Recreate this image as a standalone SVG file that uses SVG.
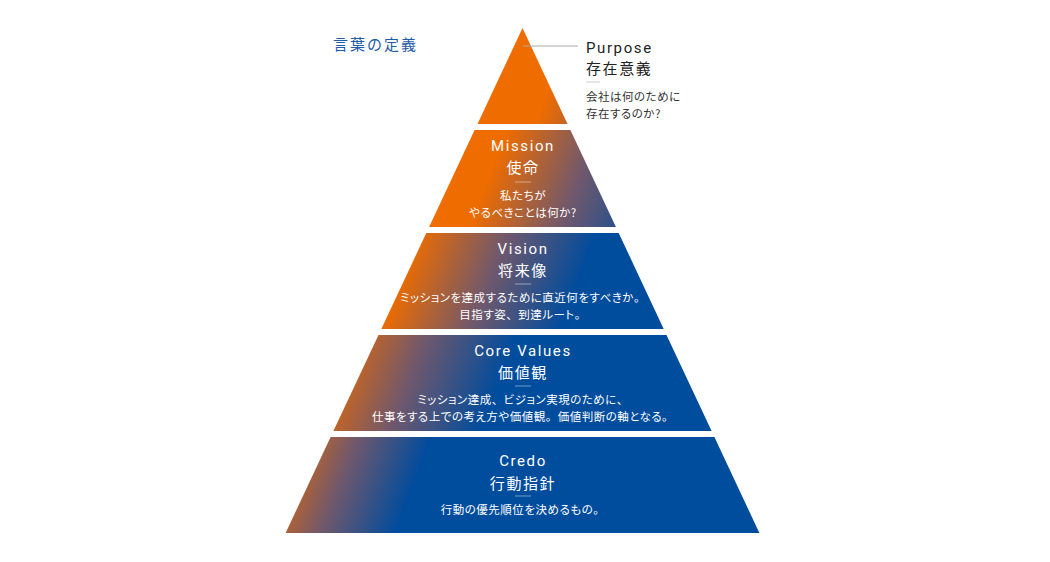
<svg xmlns="http://www.w3.org/2000/svg" width="1050" height="562" viewBox="0 0 1050 562">
<defs>
<linearGradient id="gp" gradientUnits="userSpaceOnUse" x1="509.0" y1="194.6" x2="667.8" y2="255.3">
<stop offset="0" stop-color="#EE6C00"/><stop offset="0.5" stop-color="#70586C"/><stop offset="1" stop-color="#004C9D"/>
</linearGradient>
<linearGradient id="gm" gradientUnits="userSpaceOnUse" x1="485.7" y1="185.6" x2="644.5" y2="246.3">
<stop offset="0" stop-color="#EE6C00"/><stop offset="0.5" stop-color="#70586C"/><stop offset="1" stop-color="#004C9D"/>
</linearGradient>
<linearGradient id="gv" gradientUnits="userSpaceOnUse" x1="440.8" y1="168.5" x2="599.6" y2="229.2">
<stop offset="0" stop-color="#EE6C00"/><stop offset="0.5" stop-color="#70586C"/><stop offset="1" stop-color="#004C9D"/>
</linearGradient>
<linearGradient id="gc" gradientUnits="userSpaceOnUse" x1="404.4" y1="154.6" x2="563.2" y2="215.3">
<stop offset="0" stop-color="#EE6C00"/><stop offset="0.5" stop-color="#70586C"/><stop offset="1" stop-color="#004C9D"/>
</linearGradient>
<linearGradient id="gr" gradientUnits="userSpaceOnUse" x1="392.3" y1="149.9" x2="523.0" y2="199.9">
<stop offset="0" stop-color="#EE6C00"/><stop offset="0.5" stop-color="#70586C"/><stop offset="1" stop-color="#004C9D"/>
</linearGradient>
<style>
.en{font-family:Roboto,"Noto Sans",sans-serif;font-size:15px;font-weight:400;letter-spacing:1.6px;fill:#fff;text-anchor:middle}
.jt{font-family:"Noto Sans CJK JP",sans-serif;font-size:15px;font-weight:400;letter-spacing:1.6px;fill:#fff;text-anchor:middle}
.jd{font-family:"Noto Sans CJK JP",sans-serif;font-size:11.5px;font-weight:400;letter-spacing:0.5px;fill:#fff;text-anchor:middle;font-feature-settings:"palt"}
.fw{font-feature-settings:normal}
.sep{stroke:#fff;stroke-opacity:0.45;stroke-width:1}
.dark{fill:#222;text-anchor:start}
.desc{fill:#333;text-anchor:start}
</style>
</defs>
<rect width="1050" height="562" fill="#fff"/>
<text x="333" y="50" font-family="'Noto Sans CJK JP',sans-serif" font-size="15" font-weight="400" letter-spacing="2" fill="#1E5BA8">言葉の定義</text>
<g id="purpose">
<polygon fill="url(#gp)" points="522.5,28 567.5,124 477.5,124"/>
<text class="en dark" x="586" y="53">Purpose</text>
<text class="jt dark" x="586" y="74">存在意義</text>
<line x1="586" y1="82" x2="600" y2="82" stroke="#ccc" stroke-width="1"/>
<text class="jd desc" x="586" y="101">会社は何のために</text>
<text class="jd desc" x="586" y="118">存在するのか?</text>
</g>
<g id="connectors">
<line x1="523" y1="46" x2="578" y2="46" stroke="#aaa" stroke-width="1"/>
</g>
<g id="mission">
<polygon fill="url(#gm)" points="474.6,130 570.4,130 615.9,227 429.1,227"/>
<text class="en" x="523" y="151">Mission</text>
<text class="jt" x="523" y="173">使命</text>
<line class="sep" x1="515" y1="182" x2="531" y2="182"/>
<text class="jd" x="523" y="200">私たちが</text>
<text class="jd" x="523" y="217">やるべきことは何か?</text>
</g>
<g id="vision">
<polygon fill="url(#gv)" points="426.3,233 618.7,233 663.7,329 381.3,329"/>
<text class="en" x="523" y="254">Vision</text>
<text class="jt" x="523" y="276">将来像</text>
<line class="sep" x1="515" y1="284" x2="531" y2="284"/>
<text class="jd" x="523" y="302">ミッションを達成するために直近何をすべきか<tspan class="fw">。</tspan></text>
<text class="jd" x="523" y="319">目指す姿<tspan class="fw">、</tspan>到達ルート<tspan class="fw">。</tspan></text>
</g>
<g id="corevalues">
<polygon fill="url(#gc)" points="378.5,335 666.5,335 711.6,431 333.4,431"/>
<text class="en" x="523" y="356">Core Values</text>
<text class="jt" x="523" y="378">価値観</text>
<line class="sep" x1="515" y1="386" x2="531" y2="386"/>
<text class="jd" x="523" y="404">ミッション達成<tspan class="fw">、</tspan>ビジョン実現のために<tspan class="fw">、</tspan></text>
<text class="jd" x="523" y="421">仕事をする上での考え方や価値観<tspan class="fw">。</tspan>価値判断の軸となる<tspan class="fw">。</tspan></text>
</g>
<g id="credo">
<polygon fill="url(#gr)" points="330.6,437 714.4,437 759.4,533 285.6,533"/>
<text class="en" x="523" y="466">Credo</text>
<text class="jt" x="523" y="489">行動指針</text>
<line class="sep" x1="515" y1="496" x2="531" y2="496"/>
<text class="jd" x="523" y="514">行動の優先順位を決めるもの<tspan class="fw">。</tspan></text>
</g>
</svg>
